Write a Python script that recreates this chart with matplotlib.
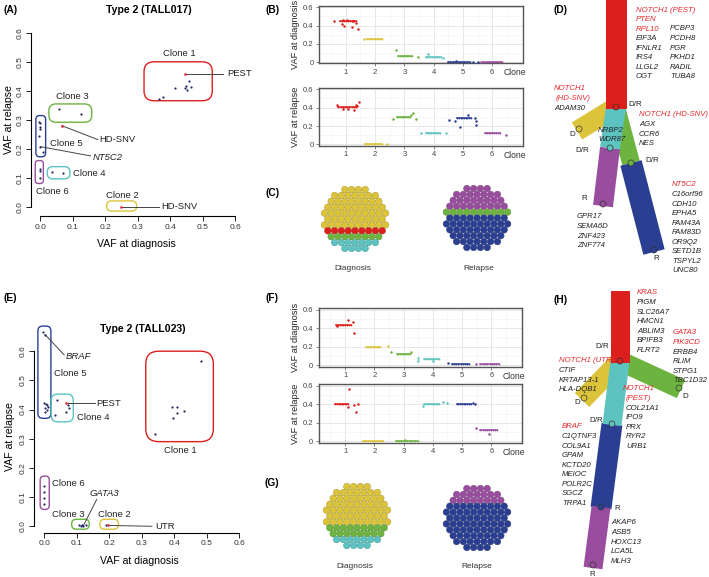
import numpy as np
import matplotlib
matplotlib.use('Agg')
import matplotlib.pyplot as plt
from matplotlib import patches

plt.rcParams['font.family'] = ['Liberation Sans', 'DejaVu Sans']

W, H = 709, 577
RED, YEL, GRN, CYN, NAVY, PURP = '#dc1f1c', '#dcc43a', '#6db33f', '#5cc3c1', '#2b3f92', '#994d9e'
CLONE_COLS = [RED, YEL, GRN, CYN, NAVY, PURP]
GENE_RED = '#e4282c'
DOT = '#1d2660'
HIL = '#e8202a'

# ---------------- (A) TALL017 : VAF diagnosis vs relapse
a_x = [0.367, 0.378, 0.415, 0.446, 0.448, 0.451, 0.457, 0.464,
       0.059, 0.125,
       -0.002, 0.001, 0.000, 0.000, -0.002, 0.001, 0.008,
       -0.001, 0.000, -0.001,
       0.036, 0.072]
a_y = [0.373, 0.380, 0.410, 0.411, 0.418, 0.403, 0.433, 0.413,
       0.338, 0.320,
       0.294, 0.289, 0.277, 0.269, 0.246, 0.208, 0.189,
       0.130, 0.123, 0.101,
       0.122, 0.117]
a_hx = [0.446, 0.067, 0.248]
a_hy = [0.459, 0.280, 0.000]
# clone boxes: x0, x1, y0, y1, colour, corner
a_boxes = [(0.320, 0.530, 0.366, 0.500, RED, 0.030),
           (0.027, 0.159, 0.292, 0.355, GRN, 0.022),
           (-0.013, 0.017, 0.173, 0.315, NAVY, 0.012),
           (-0.015, 0.010, 0.081, 0.160, PURP, 0.010),
           (0.022, 0.092, 0.097, 0.139, CYN, 0.017),
           (0.205, 0.297, -0.014, 0.021, YEL, 0.015)]
a_labels = [('Clone 1', 0.428, 0.528, 'center', False),
            ('Clone 3', 0.098, 0.379, 'center', False),
            ('Clone 5', 0.082, 0.217, 'center', False),
            ('Clone 4', 0.102, 0.117, 'left', False),
            ('Clone 6', 0.037, 0.052, 'center', False),
            ('Clone 2', 0.253, 0.041, 'center', False),
            ('PEST', 0.575, 0.459, 'left', False),
            ('HD-SNV', 0.182, 0.231, 'left', False),
            ('NT5C2', 0.162, 0.172, 'left', True),
            ('HD-SNV', 0.374, 0.000, 'left', False)]
a_leaders = [((0.446, 0.459), (0.562, 0.459)),
             ((0.067, 0.280), (0.178, 0.232)),
             ((0.001, 0.208), (0.155, 0.176)),
             ((0.248, 0.000), (0.366, 0.000))]

# ---------------- (E) TALL023
e_x = [-0.002, 0.003, 0.000, 0.005, 0.010, 0.013, 0.004, 0.008, 0.002,
       0.039, 0.034, 0.066, 0.073, 0.077,
       0.483, 0.341, 0.395, 0.410, 0.430, 0.408, 0.398,
       0.001, 0.001, 0.000, 0.001,
       0.109, 0.116, 0.121, 0.129, 0.113,
       0.190]
e_y = [0.666, 0.657, 0.423, 0.418, 0.414, 0.408, 0.404, 0.398, 0.392,
       0.432, 0.380, 0.392, 0.415, 0.407,
       0.565, 0.316, 0.410, 0.409, 0.396, 0.389, 0.371,
       0.138, 0.118, 0.096, 0.075,
       0.003, 0.004, 0.002, 0.003, 0.001,
       0.003]
e_hx = [0.069, 0.196]
e_hy = [0.421, 0.003]
e_boxes = [(-0.019, 0.021, 0.370, 0.686, NAVY, 0.015),
           (0.022, 0.090, 0.358, 0.453, CYN, 0.020),
           (0.313, 0.521, 0.290, 0.600, RED, 0.040),
           (-0.012, 0.016, 0.058, 0.172, PURP, 0.012),
           (0.085, 0.139, -0.010, 0.024, GRN, 0.014),
           (0.172, 0.229, -0.010, 0.024, YEL, 0.014)]
e_labels = [('BRAF', 0.066, 0.583, 'left', True),
            ('Clone 5', 0.032, 0.525, 'left', False),
            ('PEST', 0.160, 0.422, 'left', False),
            ('Clone 4', 0.100, 0.374, 'left', False),
            ('Clone 1', 0.418, 0.258, 'center', False),
            ('Clone 6', 0.024, 0.148, 'left', False),
            ('GATA3', 0.185, 0.111, 'center', True),
            ('Clone 3', 0.076, 0.039, 'center', False),
            ('Clone 2', 0.216, 0.039, 'center', False),
            ('UTR', 0.342, 0.000, 'left', False)]
e_leaders = [((0.003, 0.657), (0.062, 0.587)),
             ((0.069, 0.421), (0.156, 0.421)),
             ((0.121, 0.002), (0.162, 0.092)),
             ((0.196, 0.003), (0.332, 0.000))]

# ---------------- (B)/(F) VAF per clone
b_diag_lvl = [0.45, 0.25, 0.07, 0.06, 0.005, 0.005]
b_diag_span = [(0.80, 1.35), (1.74, 2.23), (2.80, 3.25), (3.75, 4.26), (4.48, 5.24), (5.70, 6.33)]
b_diag_pts = [[(0.60, 0.453), (0.86, 0.413), (0.95, 0.395), (1.20, 0.380), (1.43, 0.366),
               (1.35, 0.430), (0.90, 0.460), (1.05, 0.455), (1.25, 0.450)],
              [(1.63, 0.25)],
              [(2.71, 0.128), (3.48, 0.058)],
              [(3.80, 0.084), (4.33, 0.044)],
              [(4.75, 0.012), (5.35, 0.005), (5.52, 0.005)],
              [(5.62, 0.005)]]
b_rel_lvl = [0.41, 0.0, 0.30, 0.128, 0.29, 0.128]
b_rel_span = [(0.75, 1.35), (1.66, 2.23), (2.74, 3.19), (3.74, 4.22), (4.81, 5.27), (5.75, 6.26)]
b_rel_pts = [[(0.71, 0.427), (0.92, 0.380), (1.09, 0.380), (1.28, 0.370), (1.40, 0.420),
              (1.44, 0.456), (1.35, 0.427)],
             [(2.42, 0.0)],
             [(2.63, 0.28), (3.29, 0.34), (3.22, 0.32), (3.40, 0.28)],
             [(3.57, 0.128), (4.42, 0.128)],
             [(4.54, 0.27), (4.73, 0.255), (4.90, 0.19), (5.18, 0.318), (5.41, 0.29),
              (5.44, 0.26), (5.44, 0.21)],
             [(6.46, 0.106)]]
f_diag_lvl = [0.44, 0.20, 0.12, 0.07, 0.02, 0.015]
f_diag_span = [(0.69, 1.20), (1.73, 2.19), (2.76, 3.22), (3.71, 4.20), (4.66, 5.24), (5.63, 6.25)]
f_diag_pts = [[(1.11, 0.49), (1.26, 0.467), (1.29, 0.35), (0.71, 0.43)],
              [(2.47, 0.21)],
              [(2.57, 0.14), (3.25, 0.14)],
              [(3.48, 0.08), (3.48, 0.044), (4.00, 0.048)],
              [(4.53, 0.025)],
              [(5.49, 0.015)]]
f_rel_lvl = [0.40, 0.0, 0.0, 0.407, 0.407, 0.12]
f_rel_span = [(0.67, 1.09), (1.60, 2.28), (2.74, 3.48), (3.71, 4.22), (4.81, 5.30), (5.63, 6.20)]
f_rel_pts = [[(1.15, 0.568), (1.09, 0.374), (1.32, 0.389), (1.43, 0.407), (1.38, 0.314)],
             [],
             [(3.05, 0.01)],
             [(3.65, 0.38), (4.36, 0.43), (4.47, 0.42)],
             [(5.37, 0.41), (5.44, 0.40)],
             [(5.49, 0.146), (5.92, 0.075)]]

# ---------------- (C)/(G) cell fractions, top to bottom
c_diag = [(YEL, 0.64), (RED, 0.10), (GRN, 0.16), (CYN, 0.10)]
c_rel = [(PURP, 0.38), (GRN, 0.10), (NAVY, 0.52)]
g_diag = [(YEL, 0.68), (GRN, 0.20), (CYN, 0.12)]
g_rel = [(PURP, 0.25), (NAVY, 0.75)]


def px_axes(fig, l, t, r, b):
    return fig.add_axes([l / W, 1 - b / H, (r - l) / W, (b - t) / H])


def vaf_scatter(ax, xs, ys, hx, hy, boxes, labels, leaders, xlim, ylim):
    ax.set_xlim(*xlim)
    ax.set_ylim(*ylim)
    for x0, x1, y0, y1, col, r in boxes:
        ax.add_patch(patches.FancyBboxPatch((x0, y0), x1 - x0, y1 - y0,
                     boxstyle='round,pad=0,rounding_size=%g' % r, mutation_aspect=1.1,
                     fc='none', ec=col, lw=1.0))
    for (p0, p1) in leaders:
        ax.plot([p0[0], p1[0]], [p0[1], p1[1]], color='#444444', lw=0.7)
    ax.scatter(xs, ys, s=2.5, color=DOT, zorder=3, lw=0)
    ax.scatter(hx, hy, s=3.5, color=HIL, zorder=4, lw=0)
    for txt, x, y, ha, it in labels:
        ax.text(x, y, txt, ha=ha, va='center', fontsize=6.8,
                style='italic' if it else 'normal', color='#222222')
    for s in ['top', 'right']:
        ax.spines[s].set_visible(False)
    ax.spines['left'].set_bounds(0, 0.6)
    ax.spines['bottom'].set_bounds(0, 0.6)
    ticks = [0, 0.1, 0.2, 0.3, 0.4, 0.5, 0.6]
    ax.set_xticks(ticks)
    ax.set_yticks(ticks)
    ax.set_xticklabels(['%.1f' % t for t in ticks], fontsize=6, color='#333333')
    ax.set_yticklabels(['%.1f' % t for t in ticks], fontsize=6, rotation=90, va='center', color='#333333')
    ax.tick_params(length=3.5, width=0.6, pad=2)
    for s in ['left', 'bottom']:
        ax.spines[s].set_linewidth(0.8)
    ax.patch.set_alpha(0)


def strip(ax, lvl, span, pts, ylab):
    ax.set_xlim(0.09, 7.04)
    ax.set_ylim(-0.014, 0.617)
    ax.set_xticks(range(1, 7))
    ax.set_xticks(np.arange(0.5, 7.0, 1.0), minor=True)
    ax.set_yticks([0, 0.2, 0.4, 0.6])
    ax.set_yticks([0.1, 0.3, 0.5], minor=True)
    ax.set_yticklabels(['0', '0.2', '0.4', '0.6'])
    ax.grid(which='major', color='#e3e3e3', lw=0.6)
    ax.grid(which='minor', color='#f1f1f1', lw=0.4)
    ax.set_axisbelow(True)
    ax.tick_params(which='major', length=2, width=0.5, color='#555555', labelsize=5.5,
                   labelcolor='#444444', pad=2)
    ax.tick_params(which='minor', length=0)
    for s in ax.spines.values():
        s.set_color('#555555')
        s.set_linewidth(1.0)
    for c in range(6):
        ax.plot(span[c], [lvl[c], lvl[c]], color=CLONE_COLS[c], lw=1.1, zorder=3)
        ax.plot(np.linspace(span[c][0], span[c][1], 9), [lvl[c]] * 9, 'o',
                color=CLONE_COLS[c], ms=1.3, mew=0, zorder=3)
        if pts[c]:
            px_, py_ = zip(*pts[c])
            ax.plot(px_, py_, 'o', color=CLONE_COLS[c], ms=1.8, mew=0, zorder=4)
    ax.text(0.963, -0.165, 'Clone', transform=ax.transAxes, ha='center', va='center',
            fontsize=6.2, color='#333333')
    ax.set_ylabel(ylab, fontsize=6.6, labelpad=2, color='#222222')


def cell_pack(ax, cx, cy, fracs, d=6.8, R=33.6):
    # hexagonal packing of cells in a disc, clone bands coloured row by row
    rows = []
    dy = d * np.sqrt(3) / 2
    nr = int(R // dy) + 1
    for j in range(-nr, nr + 1):
        y = j * dy
        off = d / 2 if j % 2 else 0
        row = [(i * d + off, y) for i in range(-8, 9) if (i * d + off) ** 2 + y * y <= R * R]
        if row:
            rows.append(row)
    n = sum(len(r) for r in rows)
    bounds = np.cumsum([f for _, f in fracs]) * n
    done = 0
    for row in rows:
        mid = done + len(row) / 2
        k = min(int(np.searchsorted(bounds, mid)), len(fracs) - 1)
        col = fracs[k][0]
        edge = np.array(matplotlib.colors.to_rgb(col)) * 0.75
        for x, y in row:
            ax.add_patch(patches.Circle((cx + x, cy + y), d / 2 - 0.1, fc=col, ec=edge, lw=0.3))
        done += len(row)


def branch(ax, p0, p1, w, col):
    p0, p1 = np.array(p0, float), np.array(p1, float)
    u = (p1 - p0) / np.hypot(*(p1 - p0))
    n = np.array([-u[1], u[0]]) * w / 2
    ax.add_patch(patches.Polygon([p0 + n, p1 + n, p1 - n, p0 - n], closed=True, fc=col, ec='none'))


def tree(ax, branches, nodes, node_labels, blocks):
    for p0, p1, w, col in branches:
        branch(ax, p0, p1, w, col)
    for (x, y), col in nodes:
        ax.add_patch(patches.Circle((x, y), 3.0, fc=col, ec='#333333', lw=0.5, zorder=5))
    for txt, x, y in node_labels:
        ax.text(x, y, txt, ha='center', va='center', fontsize=5.8, color='#222222', zorder=6)
    for x, y, lines in blocks:
        for i, ln in enumerate(lines):
            txt, col = ln if isinstance(ln, tuple) else (ln, '#222222')
            ax.text(x, y + i * 9.55, txt, ha='left', va='center', fontsize=5.6,
                    style='italic', color=col, zorder=6)


fig = plt.figure(figsize=(W / 100, H / 100), dpi=100)

# background drawing layer in pixel units
ax0 = fig.add_axes([0, 0, 1, 1])
ax0.set_xlim(0, W)
ax0.set_ylim(H, 0)
ax0.axis('off')

# (A)
axA = px_axes(fig, 31, 27, 241.5, 216)
vaf_scatter(axA, a_x, a_y, a_hx, a_hy, a_boxes, a_labels, a_leaders, (-0.028, 0.62), (-0.031, 0.62))
axA.set_xlabel('VAF at diagnosis', fontsize=7.6, labelpad=6)
fig.text(9 / W, 1 - 120 / H, 'VAF at relapse', rotation=90, ha='center', va='center', fontsize=7.6)

# (E)
axE = px_axes(fig, 34, 322, 245.5, 532.7)
vaf_scatter(axE, e_x, e_y, e_hx, e_hy, e_boxes, e_labels, e_leaders, (-0.031, 0.62), (-0.022, 0.70))
axE.set_xlabel('VAF at diagnosis', fontsize=7.6, labelpad=6)
fig.text(10 / W, 1 - 437 / H, 'VAF at relapse', rotation=90, ha='center', va='center', fontsize=7.6)

# titles + panel tags
fig.text(149 / W, 1 - 10 / H, 'Type 2 (TALL017)', ha='center', va='center', fontsize=7.6, fontweight='bold')
fig.text(143 / W, 1 - 329 / H, 'Type 2 (TALL023)', ha='center', va='center', fontsize=7.6, fontweight='bold')
for tag, x, y in [('(A)', 11, 10), ('(B)', 273, 10), ('(C)', 273, 193), ('(D)', 561, 10),
                  ('(E)', 10, 298), ('(F)', 272, 298), ('(G)', 272, 483), ('(H)', 561, 300)]:
    fig.text(x / W, 1 - y / H, tag, ha='center', va='center', fontsize=7.4, fontweight='bold')

# (B)/(F)
strip(px_axes(fig, 319, 5.7, 522.7, 63.3), b_diag_lvl, b_diag_span, b_diag_pts, 'VAF at diagnosis')
strip(px_axes(fig, 319, 87.7, 522.7, 145.7), b_rel_lvl, b_rel_span, b_rel_pts, 'VAF at relapse')
strip(px_axes(fig, 318.5, 308.3, 521.7, 366.7), f_diag_lvl, f_diag_span, f_diag_pts, 'VAF at diagnosis')
strip(px_axes(fig, 318.5, 384.3, 521.7, 442.7), f_rel_lvl, f_rel_span, f_rel_pts, 'VAF at relapse')

# (C)/(G)
cell_pack(ax0, 355, 219, c_diag)
cell_pack(ax0, 477, 218, c_rel)
cell_pack(ax0, 357, 516, g_diag)
cell_pack(ax0, 477, 518, g_rel)
for txt, x, y in [('Diagnosis', 353, 268), ('Relapse', 479, 268), ('Diagnosis', 355, 567), ('Relapse', 477, 567)]:
    ax0.text(x, y, txt, ha='center', va='center', fontsize=6, color='#333333')

# (D) tree
d_branches = [((616, 107), (577, 131), 20, YEL),
              ((616, 107), (631, 163), 18, GRN),
              ((631, 163), (654, 252), 22, NAVY),
              ((610, 148), (603, 206), 20, PURP),
              ((616, 107), (610, 148), 20, CYN),
              ((616, 0), (616, 109), 21, RED)]
d_nodes = [((579, 129), YEL), ((631, 163), GRN), ((603, 204), PURP), ((654, 250), NAVY),
           ((610, 148), CYN), ((616, 107), RED)]
d_node_lbl = [('D/R', 635, 104), ('D', 572, 135), ('D/R', 582, 150), ('D/R', 652, 160),
              ('R', 584, 198), ('R', 656, 258)]
d_blocks = [(636, 10, [('NOTCH1 (PEST)', GENE_RED), ('PTEN', GENE_RED), ('RPL10', GENE_RED),
                       'EIF3A', 'IFNLR1', 'IRS4', 'LLGL2', 'OGT']),
            (670, 29, ['PCBP3', 'PCDH8', 'PGR', 'PKHD1', 'RADIL', 'TUBA8']),
            (554, 89, [('NOTCH1', GENE_RED)]),
            (556, 98.5, [('(HD-SNV)', GENE_RED)]),
            (554, 108, ['ADAM30']),
            (639, 115, [('NOTCH1 (HD-SNV)', GENE_RED), 'AGX', 'CCR6', 'NES']),
            (598, 130, ['NRBP2', 'WDR87']),
            (672, 185, [('NT5C2', GENE_RED), 'C16orf96', 'CDH10', 'EPHA5', 'FAM43A', 'FAM83D',
                        'OR9Q2', 'SETD1B', 'TSPYL2', 'UNC80']),
            (577, 217, ['GPR17', 'SEMA6D', 'ZNF423', 'ZNF774'])]
tree(ax0, d_branches, d_nodes, d_node_lbl, d_blocks)

# (H) tree
h_branches = [((620, 361), (681, 389), 20, GRN),
              ((620, 361), (582, 400), 20, YEL),
              ((612, 424), (601, 508), 21, NAVY),
              ((601, 507), (593, 568), 19, PURP),
              ((620, 361), (612, 425), 19, CYN),
              ((620, 291), (620, 363), 19, RED)]
h_nodes = [((679, 388), GRN), ((584, 398), YEL), ((612, 424), CYN), ((601, 507), NAVY),
           ((593, 565), PURP), ((620, 361), RED)]
h_node_lbl = [('D/R', 602, 347), ('D', 685, 397), ('D', 577, 403), ('D/R', 596, 420),
              ('R', 617, 508), ('R', 592, 574)]
h_blocks = [(637, 293, [('KRAS', GENE_RED), 'PIGM', 'SLC26A7', 'HMCN1', 'ABLIM3', 'BPIFB3', 'FLRT2']),
            (673, 333, [('GATA3', GENE_RED), ('PIK3CD', GENE_RED), 'ERBB4', 'RLIM', 'STPG1', 'TBC1D32']),
            (559, 361, [('NOTCH1 (UTR)', GENE_RED), 'CTIF', 'KRTAP13-1', 'HLA-DQB1']),
            (623, 389, [('NOTCH1', GENE_RED)]),
            (626, 398.5, [('(PEST)', GENE_RED), 'COL21A1', 'IPO9', 'PRX', 'RYR2', 'URB1']),
            (562, 427, [('BRAF', GENE_RED), 'C1QTNF3', 'COL9A1', 'GPAM', 'KCTD20', 'MEIOC',
                        'POLR2C', 'SGCZ', 'TRPA1']),
            (611, 523, ['AKAP6', 'ASB5', 'HOXC13', 'LCA5L', 'MLH3'])]
tree(ax0, h_branches, h_nodes, h_node_lbl, h_blocks)

fig.savefig('out.png', dpi=100)
